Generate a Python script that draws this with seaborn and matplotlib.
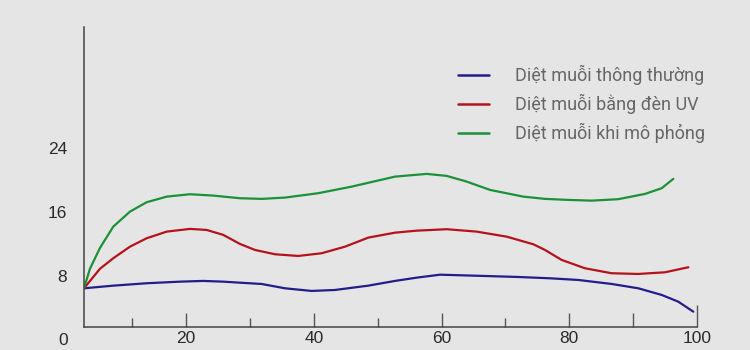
import matplotlib
matplotlib.use("Agg")
import matplotlib.pyplot as plt
import seaborn as sns
import pandas as pd
from matplotlib.lines import Line2D

# ---- data ----
series_names = ["Diệt muỗi thông thường", "Diệt muỗi bằng đèn UV", "Diệt muỗi khi mô phỏng"]

blue_x = [4.0, 8.58, 13.81, 19.03, 22.68, 25.81, 28.43, 31.82, 35.47, 39.66, 43.30, 48.52,
          52.70, 56.10, 59.75, 64.96, 71.76, 76.98, 81.41, 86.64, 90.81, 94.47, 97.07, 99.42]
blue_y = [6.46, 6.79, 7.09, 7.29, 7.38, 7.29, 7.16, 7.00, 6.46, 6.13, 6.25, 6.79,
          7.38, 7.79, 8.16, 8.04, 7.88, 7.71, 7.50, 7.00, 6.46, 5.63, 4.79, 3.54]

red_x = [4.0, 6.50, 8.58, 11.20, 13.81, 16.95, 20.60, 23.21, 25.81, 28.43, 30.78, 33.91,
         37.56, 41.22, 44.87, 48.52, 52.70, 56.10, 60.80, 65.50, 70.20, 74.36, 76.19,
         78.81, 82.46, 86.64, 90.81, 94.99, 98.64]
red_y = [6.46, 8.90, 10.21, 11.66, 12.71, 13.54, 13.88, 13.75, 13.13, 12.00, 11.25, 10.71,
         10.50, 10.84, 11.66, 12.79, 13.41, 13.66, 13.84, 13.54, 12.91, 11.96, 11.25,
         10.00, 8.96, 8.34, 8.25, 8.46, 9.09]

green_x = [4.0, 4.93, 6.50, 8.58, 11.20, 13.81, 16.95, 20.60, 24.24, 28.43, 31.82, 35.47,
           40.69, 45.92, 52.70, 57.67, 60.80, 63.93, 67.58, 72.80, 76.19, 79.84, 83.51,
           87.67, 91.86, 94.47, 96.29]
green_y = [6.46, 8.90, 11.50, 14.16, 16.04, 17.21, 17.91, 18.21, 18.04, 17.71, 17.63, 17.79,
           18.34, 19.16, 20.41, 20.75, 20.50, 19.79, 18.75, 17.91, 17.63, 17.50, 17.41,
           17.59, 18.25, 18.96, 20.13]

x_tick_values = [20, 40, 60, 80, 90, 100]
x_tick_labels = ["20", "40", "60", "80", "", "100"]
y_tick_labels = [8, 16, 24]

colors = ["#231c8a", "#b5121b", "#1b9138"]
BG = "#e5e5e5"

frames = []
for name, xs, ys in zip(series_names, [blue_x, red_x, green_x], [blue_y, red_y, green_y]):
    frames.append(pd.DataFrame({"x": xs, "y": ys, "series": name}))
df = pd.concat(frames, ignore_index=True)

sns.set_style("white")
plt.rcParams["font.family"] = ["Roboto", "DejaVu Sans"]

fig = plt.figure(figsize=(7.5, 3.5), dpi=100, facecolor=BG)
ax = fig.add_axes([84 / 750, 23 / 350, 613 / 750, 300 / 350])
ax.set_facecolor(BG)

sns.lineplot(data=df, x="x", y="y", hue="series", palette=dict(zip(series_names, colors)),
             hue_order=series_names, sort=False, estimator=None, linewidth=1.6,
             legend=False, ax=ax)

ax.set_xlim(4, 100)
ax.set_ylim(1.625, 39.1)
ax.set_xlabel("")
ax.set_ylabel("")

for s in ["top", "right"]:
    ax.spines[s].set_visible(False)
for s in ["left", "bottom"]:
    ax.spines[s].set_color("#444444")
    ax.spines[s].set_linewidth(1.1)

tick_font = dict(family=["Liberation Sans", "DejaVu Sans"], size=12.5, color="#2a2a2a")

ax.set_xticks(x_tick_values)
ax.set_xticklabels(x_tick_labels, **tick_font)
ax.set_xticks([11.5, 30, 50, 70], minor=True)
ax.tick_params(axis="x", which="both", bottom=True, direction="in", width=1.0,
               color="#555555", pad=3)
ax.tick_params(axis="x", which="major", length=10)
ax.tick_params(axis="x", which="minor", length=6.5)
ax.xaxis.get_major_ticks()[-1].tick1line.set_markersize(16)

ax.set_yticks(y_tick_labels)
ax.set_yticklabels([str(v) for v in y_tick_labels], **tick_font)
ax.tick_params(axis="y", left=False, length=0, pad=12)

ax.text(0.7, 0, "0", ha="center", va="center", clip_on=False, **tick_font)

handles = [Line2D([], [], color=c, lw=1.8) for c in colors]
leg = fig.legend(handles, series_names, loc="upper left", bbox_to_anchor=(458 / 750, 1 - 65 / 350),
                 frameon=False, fontsize=13, handlelength=1.7, handletextpad=1.45,
                 labelspacing=0.5, borderaxespad=0, borderpad=0)
for t in leg.get_texts():
    t.set_color("#666666")

fig.savefig("out.png", dpi=100, facecolor=BG)
